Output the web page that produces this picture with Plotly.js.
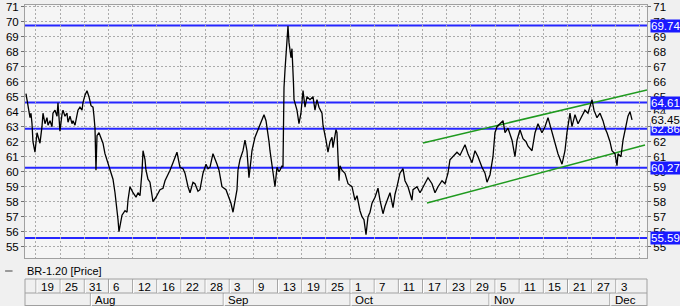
<!DOCTYPE html>
<html><head><meta charset="utf-8">
<script src="https://cdn.plot.ly/plotly-3.0.1.min.js"></script>
<style>html,body{margin:0;padding:0;background:#f0f0f0;overflow:hidden}#c{width:680px;height:306px;}</style>
</head><body><div id="c"></div>
<script>
const seriesName = 'BR-1.20 [Price]';
// trading-day index (0 = 19 Jul), fractional = intraday
const tradeDay = [-1.66,-1.49,-1.32,-0.99,-0.83,-0.66,-0.50,-0.17,0.17,0.66,0.99,1.16,1.49,1.82,1.99,2.32,2.65,2.81,3.15,3.48,3.64,3.81,3.97,4.30,4.47,4.80,5.13,5.30,5.63,5.96,6.13,6.46,6.79,6.95,7.28,7.62,7.78,8.11,8.44,8.77,9.11,9.44,9.60,9.77,9.93,10.10,10.43,10.60,11.09,11.42,11.92,12.25,12.42,12.75,13.08,13.41,13.58,13.74,14.07,14.24,14.74,15.07,15.23,15.56,16.06,16.56,16.89,17.22,17.55,17.72,18.05,18.21,18.54,18.87,19.37,19.87,20.53,21.03,21.36,21.85,22.19,22.68,23.01,23.34,23.68,23.84,24.34,24.67,25.17,25.50,25.99,26.32,26.82,27.15,27.65,28.15,28.48,28.81,29.30,29.64,29.97,30.30,30.79,31.46,31.95,32.28,32.62,32.95,33.28,33.44,33.77,34.27,34.60,34.93,35.26,35.60,35.76,36.26,36.75,37.09,37.42,37.75,38.08,38.25,38.58,38.74,39.07,39.40,39.57,39.90,40.23,40.40,40.73,40.89,41.06,41.23,41.39,41.56,41.72,41.89,42.05,42.22,42.38,42.55,42.63,42.72,42.88,43.21,43.54,43.87,44.21,44.54,44.87,45.36,45.86,46.19,46.52,46.85,47.35,47.52,48.01,48.34,48.68,49.01,49.17,49.67,49.83,50.00,50.17,50.33,50.66,51.16,51.66,52.32,52.81,53.15,53.64,53.97,54.30,54.64,54.97,55.30,55.63,56.13,56.62,56.95,57.45,57.78,58.11,58.61,59.11,59.44,59.77,60.26,60.76,61.09,61.59,61.92,62.25,62.42,63.08,63.58,64.07,64.40,64.90,65.56,66.06,66.56,67.22,67.72,68.21,68.54,69.04,69.70,70.20,70.53,71.03,71.52,72.19,72.68,73.18,73.84,74.34,74.67,75.17,75.66,75.99,76.32,76.82,77.32,77.65,78.15,78.81,79.30,79.64,80.13,80.63,81.13,81.46,82.12,82.62,83.11,83.77,84.27,84.77,85.43,85.93,86.42,87.09,87.58,87.91,88.25,88.41,88.74,89.24,89.74,90.40,90.89,91.39,91.72,92.05,92.38,92.88,93.38,93.87,94.21,94.54,95.03,95.36,95.86,96.19,96.36,96.85,97.19,97.68,98.01,98.34,98.68];
const price = [65.2,64.8,64.1,63.6,63.9,63.2,62.0,61.3,62.6,61.9,63.0,63.9,63.2,63.6,63.1,63.4,63.0,63.9,64.1,63.7,64.6,63.8,62.7,63.8,64.1,63.7,63.9,63.3,63.7,63.2,63.4,63.1,63.7,64.1,64.3,64.1,64.6,65.1,65.4,65.0,64.4,64.3,63.7,62.9,60.1,62.4,62.6,62.4,61.9,61.2,60.5,60.1,59.9,59.5,58.6,57.6,56.8,56.0,56.6,57.1,57.4,57.3,58.1,59.0,58.6,58.3,58.6,58.4,60.0,61.4,60.8,60.1,59.5,59.3,58.0,58.3,58.8,58.9,59.4,59.8,60.1,60.6,61.0,61.3,60.6,60.3,60.2,59.9,59.0,58.6,59.3,59.2,58.7,58.8,59.9,60.5,60.2,60.3,61.2,60.9,60.5,60.1,59.0,58.8,58.3,57.9,57.3,58.0,58.8,60.1,60.8,61.4,62.1,61.4,59.6,60.8,61.4,62.3,62.8,63.2,63.6,63.8,63.4,63.0,62.0,61.4,60.5,59.6,59.0,60.3,60.0,60.1,60.4,60.3,65.6,66.8,68.0,69.0,69.7,68.6,68.0,67.6,68.2,67.0,65.9,64.8,64.6,64.1,63.2,63.9,65.4,64.3,65.0,64.8,65.0,64.1,64.8,64.3,63.9,63.1,62.1,61.3,62.0,62.3,61.6,62.8,62.6,60.8,59.4,60.4,60.1,59.9,59.2,59.0,58.1,58.4,57.4,57.0,56.8,55.8,57.0,57.3,57.9,58.3,58.9,58.1,57.2,57.7,58.1,58.6,57.6,58.5,59.0,59.9,60.2,59.4,59.0,58.5,58.1,58.8,59.0,58.6,59.0,59.3,59.6,59.2,58.6,59.0,59.4,59.2,59.9,60.8,61.0,61.3,61.1,61.4,61.8,61.2,60.6,61.4,61.0,60.3,59.9,59.3,59.8,61.0,62.6,63.0,63.2,63.4,62.6,62.9,62.1,61.0,62.1,62.8,62.2,62.0,61.7,61.4,62.6,63.2,62.6,63.0,63.6,62.6,61.9,61.2,60.5,61.4,62.6,63.4,63.9,63.0,63.8,63.2,63.7,64.1,63.9,64.4,64.8,64.1,63.6,63.9,63.4,62.9,62.6,62.0,61.4,61.2,60.4,61.2,61.0,62.1,63.0,63.7,64.0,63.45];
const levels = [69.74, 64.61, 62.86, 60.27, 55.59];
const lastPrice = 63.45;
const trendUpperT = [64.07, 101.16], trendUpperV = [61.91, 65.45];
const trendLowerT = [64.74, 100.83], trendLowerV = [57.91, 61.78];
const dayTickIdx = [0,4,8,12,16,20,24,28,32,36,40,44,48,52,56,60,64,68,72,76,80,84,88,92,96];
const dayTickLabels = ['19','25','31','6','12','16','22','28','3','9','13','19','25','1','7','11','17','23','29','5','11','15','21','27','3'];
const monthIdx = [9,31,52,75,95];
const monthLabels = ['Aug','Sep','Oct','Nov','Dec'];

const FONT = 'Liberation Sans, Arial, sans-serif';
const FS = 11;
const H = 253; // plot height px
const yp = px => (258 - px) / H;   // layout helper: px below plot top -> paper y
const xRange = [-1.82, 101.16], yRange = [54.25, 71.11];

const traces = [
  {x: trendUpperT, y: trendUpperV, mode: 'lines', line: {color: '#1f9a1f', width: 1.5}, hoverinfo: 'skip', showlegend: false},
  {x: trendLowerT, y: trendLowerV, mode: 'lines', line: {color: '#1f9a1f', width: 1.5}, hoverinfo: 'skip', showlegend: false},
  {x: tradeDay, y: price, name: seriesName, mode: 'lines', line: {color: '#000000', width: 1.3}, showlegend: false},
  {x: [tradeDay[0]], y: [price[0]], yaxis: 'y2', mode: 'markers', marker: {opacity: 0}, hoverinfo: 'skip', showlegend: false}
];

const shapes = [];
const annotations = [];
levels.forEach(v => {
  shapes.push({type: 'line', xref: 'paper', x0: 0, x1: 1, yref: 'y', y0: v, y1: v, line: {color: '#2626ff', width: 2}, layer: 'between'});
  annotations.push({xref: 'paper', x: 1, xanchor: 'left', xshift: 3, yref: 'y', y: v, yanchor: 'middle', text: v.toFixed(2), showarrow: false, bgcolor: '#1a1aff', borderpad: 0, font: {family: FONT, size: FS + 0.5, color: '#ffffff'}});
});
annotations.push({xref: 'paper', x: 1, xanchor: 'left', xshift: 3, yref: 'y', y: lastPrice, yanchor: 'middle', text: lastPrice.toFixed(2), showarrow: false, bgcolor: '#f0f0f0', borderpad: 0, font: {family: FONT, size: FS + 0.5, color: '#000000'}});

// legend
shapes.push({type: 'line', xref: 'paper', x0: -0.032, x1: -0.020, yref: 'paper', y0: yp(271), y1: yp(271), line: {color: '#444', width: 1}});
annotations.push({xref: 'paper', x: 0, xanchor: 'left', yref: 'paper', y: yp(271), yanchor: 'middle', text: seriesName, showarrow: false, font: {family: FONT, size: FS, color: '#000'}});

// date table
const tblLine = {color: '#a0a0a0', width: 1};
[279, 293, 305.5].forEach(py => shapes.push({type: 'line', xref: 'paper', x0: 0, x1: 1, yref: 'paper', y0: yp(py), y1: yp(py), line: tblLine}));
shapes.push({type: 'line', xref: 'paper', x0: 0, x1: 0, yref: 'paper', y0: yp(279), y1: yp(306), line: tblLine});
shapes.push({type: 'line', xref: 'paper', x0: 1, x1: 1, yref: 'paper', y0: yp(279), y1: yp(306), line: tblLine});
dayTickIdx.forEach((d, i) => {
  shapes.push({type: 'line', xref: 'x', x0: d, x1: d, yref: 'paper', y0: yp(279), y1: yp(293), line: tblLine});
  shapes.push({type: 'line', xref: 'x', xsizemode: 'pixel', xanchor: d, x0: 1, x1: 1, yref: 'paper', y0: yp(280), y1: yp(293), line: {color: '#ffffff', width: 1}});
  annotations.push({xref: 'x', x: d, xanchor: 'left', xshift: 3, yref: 'paper', y: yp(286.5), yanchor: 'middle', text: dayTickLabels[i], showarrow: false, font: {family: FONT, size: FS + 0.5, color: '#000'}});
});
monthIdx.forEach((d, i) => {
  shapes.push({type: 'line', xref: 'x', x0: d, x1: d, yref: 'paper', y0: yp(293), y1: yp(306), line: tblLine});
  shapes.push({type: 'line', xref: 'x', xsizemode: 'pixel', xanchor: d, x0: 1, x1: 1, yref: 'paper', y0: yp(294), y1: yp(306), line: {color: '#ffffff', width: 1}});
  annotations.push({xref: 'x', x: d, xanchor: 'left', xshift: 3, yref: 'paper', y: yp(300), yanchor: 'middle', text: monthLabels[i], showarrow: false, font: {family: FONT, size: FS + 0.5, color: '#000'}});
});

const yCommon = {range: yRange, tick0: 55, dtick: 1, ticks: 'outside', ticklen: 3, tickcolor: '#707070', zeroline: false, ticklabeloverflow: 'allow', tickfont: {family: FONT, size: FS + 0.5, color: '#000'}};
const layout = {
  width: 680, height: 306,
  margin: {l: 25, r: 33, t: 5, b: 48, pad: 0},
  paper_bgcolor: '#f0f0f0', plot_bgcolor: '#f5f5f5',
  showlegend: false,
  xaxis: {range: xRange, tick0: 0, dtick: 4, showticklabels: false, ticks: '', showgrid: true, gridcolor: '#ababab', griddash: '2px,2px', gridwidth: 1, zeroline: false, showline: true, mirror: true, linecolor: '#a0a0a0', linewidth: 1},
  yaxis: Object.assign({}, yCommon, {showgrid: true, gridcolor: '#ababab', griddash: '2px,2px', showline: true, mirror: true, linecolor: '#a0a0a0', linewidth: 1}),
  yaxis2: Object.assign({}, yCommon, {overlaying: 'y', side: 'right', showgrid: false, showline: false}),
  shapes: shapes, annotations: annotations
};
Plotly.newPlot('c', traces, layout, {displayModeBar: false, staticPlot: true});
</script></body></html>
